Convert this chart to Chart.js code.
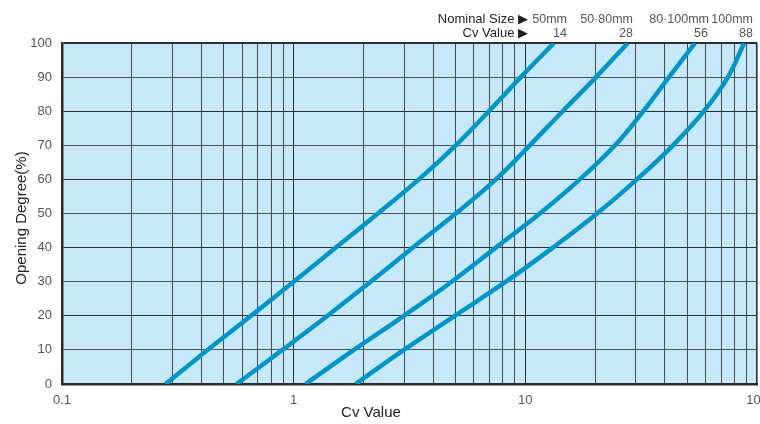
<!DOCTYPE html>
<html>
<head>
<meta charset="utf-8">
<script src="https://cdn.jsdelivr.net/npm/chart.js@4.4.1/dist/chart.umd.min.js"></script>
<style>
  html, body { margin: 0; padding: 0; background: #fff; overflow: hidden; }
  #wrap { width: 760px; height: 424px; }
</style>
</head>
<body>
<div id="wrap"><canvas id="chart"></canvas></div>
<script>
// opening degree (%) vs Cv, one curve per nominal size
const openingPct = [0, 10, 20, 30, 40, 50, 60, 70, 80, 90, 100];
const cv50mm = [0.28, 0.425, 0.655, 1.0, 1.52, 2.31, 3.47, 5.01, 6.96, 9.56, 13.3];
const cv5080mm = [0.567, 0.895, 1.40, 2.15, 3.27, 5.01, 7.46, 10.45, 14.5, 20.2, 27.7];
const cv80100mm = [1.127, 1.82, 2.99, 4.81, 7.46, 11.55, 17.2, 24.4, 32.3, 41.7, 54];
const cv100mm = [1.85, 2.99, 4.96, 8.24, 13.15, 20.4, 30.3, 43.4, 59, 74.9, 88];
const sizeLabels = ['50mm', '50·80mm', '80·100mm', '100mm'];
const maxCvLabels = ['14', '28', '56', '88'];
const cvTickLabels = [0.1, 1, 10, 100];

const series = [cv50mm, cv5080mm, cv80100mm, cv100mm];
const isDecade = (v) => cvTickLabels.some((t) => Math.abs(v - t) < t * 1e-6);

// grid lines at 1..9 of every decade
const gridCv = [];
[0.1, 1, 10].forEach((d) => { for (let m = 1; m < 10; m++) gridCv.push(m * d); });
gridCv.push(100);

const font = '"Liberation Sans", Arial, sans-serif';

const decor = {
  id: 'decor',
  beforeDraw(chart) {
    const { ctx, chartArea: a } = chart;
    ctx.save();
    ctx.fillStyle = '#c6e8f8';
    ctx.fillRect(a.left, a.top, a.right - a.left, a.bottom - a.top);
    ctx.restore();
  },
  afterDraw(chart) {
    const { ctx } = chart;
    ctx.save();
    ctx.font = `13px ${font}`;
    ctx.textAlign = 'right';
    ctx.textBaseline = 'alphabetic';
    ctx.fillStyle = '#1e1e1e';
    ctx.fillText('Nominal Size ▶', 528, 23);
    ctx.fillText('Cv Value ▶', 528, 37);
    ctx.fillStyle = '#555';
    ctx.font = `12.5px ${font}`;
    const sizeX = [567, 633, 709, 753];
    const cvX = [567, 633, 708, 753];
    sizeLabels.forEach((t, i) => ctx.fillText(t, sizeX[i], 23));
    maxCvLabels.forEach((t, i) => ctx.fillText(t, cvX[i], 37));

    ctx.fillStyle = '#222';
    ctx.font = `15px ${font}`;
    ctx.textAlign = 'center';
    ctx.fillText('Cv Value', 371, 417);
    ctx.translate(22, 218);
    ctx.rotate(-Math.PI / 2);
    ctx.textBaseline = 'middle';
    ctx.fillText('Opening Degree(%)', 0, 0);
    ctx.restore();
  },
};

new Chart(document.getElementById('chart'), {
  type: 'line',
  data: {
    datasets: series.map((cv, i) => ({
      label: sizeLabels[i],
      data: cv.map((x, j) => ({ x, y: openingPct[j] })),
      borderColor: '#0096cc',
      borderWidth: 4.5,
      pointRadius: 0,
      tension: 0.4,
      fill: false,
    })),
  },
  options: {
    responsive: true,
    maintainAspectRatio: false,
    animation: false,
    layout: { padding: { top: 43, right: 3, bottom: 0, left: 0 } },
    plugins: { legend: { display: false }, tooltip: { enabled: false } },
    scales: {
      x: {
        type: 'logarithmic',
        min: 0.1,
        max: 100,
        afterBuildTicks: (scale) => { scale.ticks = gridCv.map((value) => ({ value })); },
        afterFit: (scale) => { scale.height = 40; scale.paddingRight = 0; scale.paddingLeft = 0; },
        grid: {
          drawTicks: false,
          color: (c) => (c.tick && isDecade(c.tick.value) ? '#2a2e30' : '#444b4f'),
          lineWidth: (c) => (c.tick && c.tick.value >= 99 ? 1.6 : 1),
        },
        border: { color: '#2b2b2b', width: 2.5 },
        ticks: {
          autoSkip: false,
          maxRotation: 0,
          padding: 9,
          color: '#555',
          font: { size: 13, family: font },
          callback: (v) => (isDecade(v) ? String(v) : ''),
        },
      },
      y: {
        min: 0,
        max: 100,
        afterFit: (scale) => { scale.width = 62; },
        grid: {
          drawTicks: false,
          color: (c) => (c.tick && c.tick.value % 20 === 0 ? '#2a2e30' : '#4a5357'),
          lineWidth: (c) => (c.tick && c.tick.value === 100 ? 2 : 1),
        },
        border: { color: '#2b2b2b', width: 2.5 },
        ticks: {
          stepSize: 10,
          padding: 10,
          color: '#555',
          font: { size: 13, family: font },
        },
      },
    },
  },
  plugins: [decor],
});
</script>
</body>
</html>
